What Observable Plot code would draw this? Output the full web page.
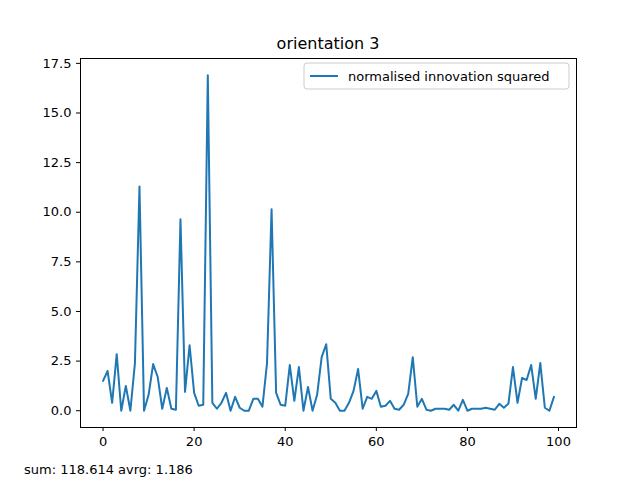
<!DOCTYPE html>
<html>
<head>
<meta charset="utf-8">
<script src="https://cdn.jsdelivr.net/npm/d3@7"></script>
<script src="https://cdn.jsdelivr.net/npm/@observablehq/plot@0.6"></script>
<style>
  body { margin: 0; background: white; }
  #chart svg { font-family: "DejaVu Sans", sans-serif; }
</style>
</head>
<body>
<div id="chart"></div>
<script>
const nis = [1.5, 2.0, 0.4, 2.85, 0.0, 1.25, 0.0, 2.4, 11.3, 0.0,
  0.8, 2.35, 1.7, 0.1, 1.15, 0.1, 0.05, 9.65, 0.95, 3.3,
  0.9, 0.25, 0.3, 16.9, 0.4, 0.1, 0.4, 0.9, 0.0, 0.7,
  0.15, 0.0, 0.0, 0.6, 0.6, 0.2, 2.4, 10.15, 0.9, 0.3,
  0.25, 2.3, 0.5, 2.2, 0.0, 1.2, 0.0, 0.8, 2.7, 3.35,
  0.6, 0.4, 0.0, 0.0, 0.4, 1.0, 2.1, 0.1, 0.7, 0.6,
  1.0, 0.2, 0.25, 0.5, 0.1, 0.05, 0.3, 0.85, 2.7, 0.2,
  0.6, 0.05, 0.0, 0.1, 0.1, 0.1, 0.05, 0.3, 0.0, 0.55,
  0.0, 0.1, 0.1, 0.1, 0.15, 0.1, 0.05, 0.35, 0.15, 0.35,
  2.2, 0.4, 1.65, 1.55, 2.3, 0.6, 2.4, 0.15, 0.0, 0.7];
const xTicks = [0, 20, 40, 60, 80, 100];
const yTicks = [0, 2.5, 5, 7.5, 10, 12.5, 15, 17.5];
const title = 'orientation 3';
const legendLabel = 'normalised innovation squared';
const caption = 'sum: 118.614 avrg: 1.186';

const data = nis.map((v, i) => ({i, v}));
const blue = '#1f77b4';

const chart = Plot.plot({
  width: 640,
  height: 480,
  marginTop: 58,
  marginBottom: 53,
  marginLeft: 80,
  marginRight: 64,
  style: {fontSize: '13px', fontFamily: '"DejaVu Sans", sans-serif', color: 'black'},
  x: {domain: [-4.95, 103.95], ticks: xTicks, tickSize: 4, tickPadding: 4, label: null},
  y: {domain: [-0.845, 17.745], ticks: yTicks, tickFormat: d3.format('.1f'), tickSize: 4, tickPadding: 4, label: null},
  marks: [
    Plot.frame({stroke: 'black'}),
    Plot.axisX({ticks: xTicks, tickSize: 4}),
    Plot.axisY({ticks: yTicks, tickFormat: d3.format('.1f'), tickSize: 4}),
    Plot.lineY(data, {x: 'i', y: 'v', stroke: blue, strokeWidth: 2})
  ]
});

const svg = d3.select(chart);
svg.append('text').attr('x', 328).attr('y', 49).attr('text-anchor', 'middle')
  .style('font-size', '16px').attr('fill', 'black').text(title);
const lg = svg.append('g').attr('text-anchor', 'start');
lg.append('rect').attr('x', 304).attr('y', 63).attr('width', 265).attr('height', 26)
  .attr('rx', 3).attr('fill', 'white').attr('stroke', '#ccc');
lg.append('line').attr('x1', 310).attr('x2', 338).attr('y1', 76).attr('y2', 76)
  .attr('stroke', blue).attr('stroke-width', 2);
lg.append('text').attr('x', 348).attr('y', 81).attr('text-anchor', 'start').style('font-size', '13px')
  .attr('fill', 'black').text(legendLabel);
svg.append('text').attr('x', 24).attr('y', 474).attr('text-anchor', 'start').style('font-size', '13px')
  .attr('fill', 'black').text(caption);

d3.select('#chart').append(() => chart);
</script>
</body>
</html>
